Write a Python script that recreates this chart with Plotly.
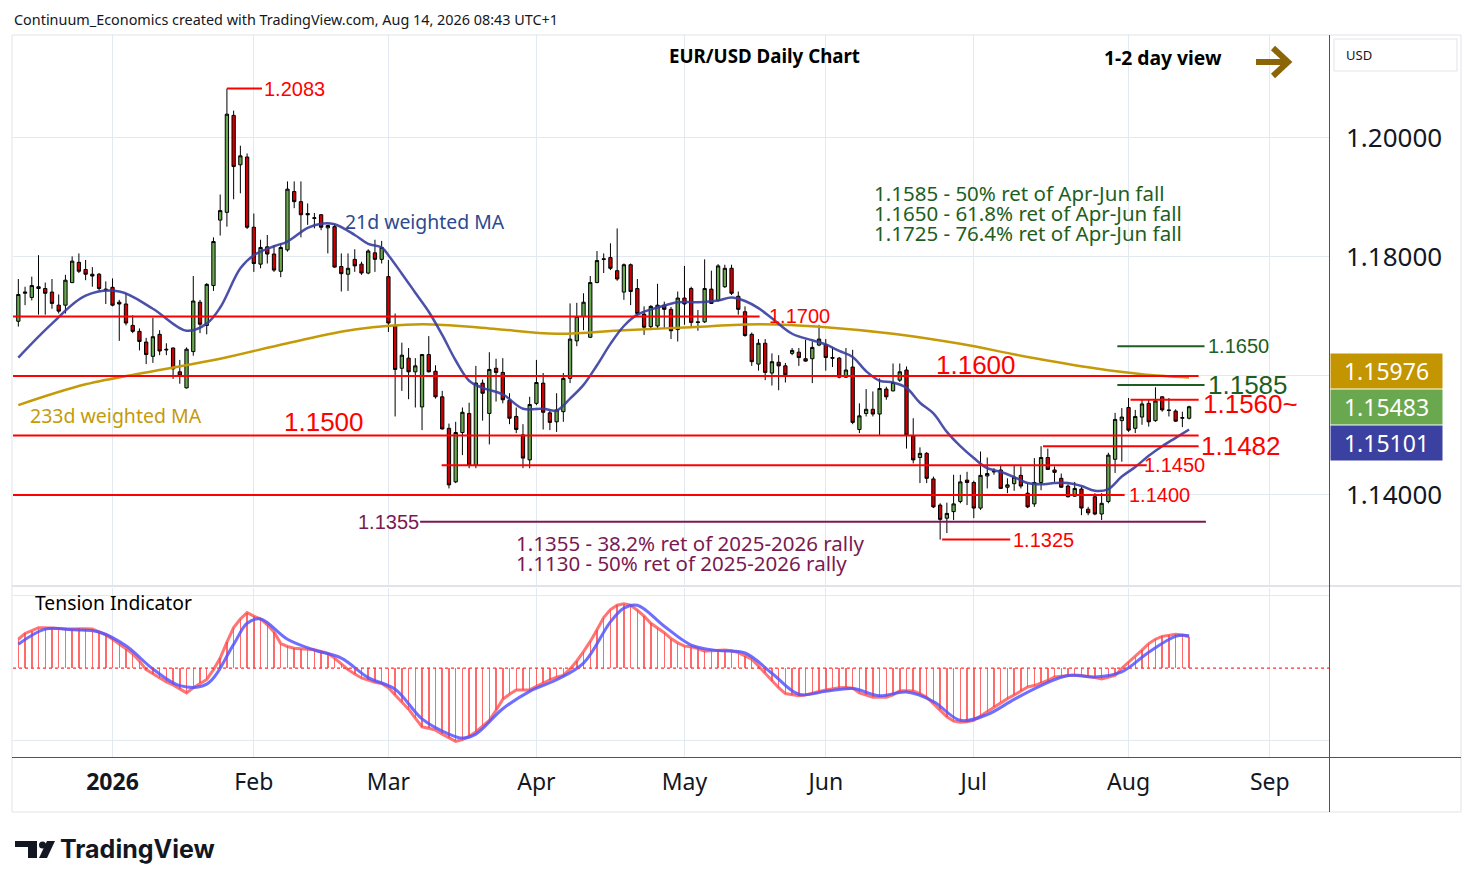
import pandas as pd
import plotly.graph_objects as go

W, H = 1474, 887

# trading days shown (weekdays, no Christmas / New Year bars)
holidays = ["2025-12-25", "2026-01-01"]
days = [d.strftime("%Y-%m-%d") for d in pd.bdate_range("2025-12-11", "2026-08-14")]
days = [d for d in days if d not in holidays]

open_ = [1.1692, 1.1739, 1.1732, 1.1750, 1.1747, 1.1741, 1.1719, 1.1719, 1.1757, 1.1791,
         1.1779, 1.1771, 1.1771, 1.1746, 1.1749, 1.1724, 1.1721, 1.1685, 1.1675, 1.1657,
         1.1633, 1.1670, 1.1645, 1.1647, 1.1607, 1.1580, 1.1641, 1.1724, 1.1685, 1.1752,
         1.1862, 1.1875, 1.2038, 1.1955, 1.1968, 1.1850, 1.1788, 1.1817, 1.1805, 1.1776,
         1.1812, 1.1910, 1.1893, 1.1873, 1.1866, 1.1871, 1.1849, 1.1851, 1.1784, 1.1771,
         1.1796, 1.1788, 1.1773, 1.1807, 1.1796, 1.1767, 1.1684, 1.1613, 1.1630, 1.1607,
         1.1548, 1.1636, 1.1608, 1.1565, 1.1512, 1.1422, 1.1505, 1.1537, 1.1450, 1.1588,
         1.1537, 1.1613, 1.1606, 1.1559, 1.1532, 1.1501, 1.1459, 1.1554, 1.1588, 1.1538,
         1.1523, 1.1540, 1.1596, 1.1659, 1.1700, 1.1665, 1.1757, 1.1797, 1.1799, 1.1777,
         1.1741, 1.1787, 1.1747, 1.1704, 1.1683, 1.1684, 1.1719, 1.1712, 1.1678, 1.1731,
         1.1747, 1.1691, 1.1691, 1.1746, 1.1727, 1.1750, 1.1781, 1.1734, 1.1708, 1.1670,
         1.1620, 1.1655, 1.1605, 1.1623, 1.1617, 1.1638, 1.1640, 1.1629, 1.1629, 1.1652,
         1.1653, 1.1631, 1.1630, 1.1598, 1.1615, 1.1510, 1.1537, 1.1544, 1.1536, 1.1578,
         1.1575, 1.1593, 1.1610, 1.1499, 1.1463, 1.1470, 1.1427, 1.1383, 1.1361, 1.1372,
         1.1389, 1.1425, 1.1421, 1.1378, 1.1432, 1.1440, 1.1442, 1.1413, 1.1419, 1.1433,
         1.1403, 1.1385, 1.1421, 1.1463, 1.1442, 1.1428, 1.1415, 1.1398, 1.1410, 1.1376,
         1.1397, 1.1368, 1.1389, 1.1460, 1.1525, 1.1547, 1.1512, 1.1531, 1.1554, 1.1525,
         1.1565, 1.1543, 1.1541, 1.1529, 1.1529]
high = [1.1763, 1.1750, 1.1767, 1.1803, 1.1757, 1.1763, 1.1737, 1.1770, 1.1801, 1.1806,
        1.1795, 1.1783, 1.1773, 1.1759, 1.1764, 1.1728, 1.1739, 1.1702, 1.1680, 1.1664,
        1.1698, 1.1677, 1.1655, 1.1648, 1.1627, 1.1648, 1.1768, 1.1728, 1.1756, 1.1833,
        1.1905, 1.2083, 1.2046, 1.1987, 1.1974, 1.1873, 1.1829, 1.1837, 1.1820, 1.1823,
        1.1927, 1.1927, 1.1927, 1.1890, 1.1874, 1.1872, 1.1854, 1.1855, 1.1806, 1.1806,
        1.1813, 1.1792, 1.1813, 1.1829, 1.1827, 1.1795, 1.1705, 1.1656, 1.1647, 1.1630,
        1.1637, 1.1667, 1.1618, 1.1575, 1.1520, 1.1523, 1.1547, 1.1555, 1.1617, 1.1594,
        1.1640, 1.1629, 1.1630, 1.1571, 1.1547, 1.1519, 1.1565, 1.1627, 1.1605, 1.1542,
        1.1571, 1.1605, 1.1722, 1.1723, 1.1739, 1.1768, 1.1810, 1.1806, 1.1823, 1.1848,
        1.1789, 1.1789, 1.1763, 1.1717, 1.1719, 1.1755, 1.1725, 1.1716, 1.1742, 1.1785,
        1.1750, 1.1711, 1.1796, 1.1777, 1.1788, 1.1787, 1.1787, 1.1742, 1.1717, 1.1673,
        1.1662, 1.1662, 1.1638, 1.1635, 1.1622, 1.1647, 1.1647, 1.1661, 1.1658, 1.1686,
        1.1662, 1.1648, 1.1632, 1.1647, 1.1644, 1.1554, 1.1578, 1.1574, 1.1596, 1.1582,
        1.1621, 1.1621, 1.1616, 1.1529, 1.1480, 1.1472, 1.1431, 1.1386, 1.1387, 1.1434,
        1.1434, 1.1439, 1.1424, 1.1473, 1.1463, 1.1445, 1.1449, 1.1428, 1.1450, 1.1448,
        1.1420, 1.1462, 1.1482, 1.1478, 1.1448, 1.1436, 1.1418, 1.1422, 1.1414, 1.1380,
        1.1403, 1.1403, 1.1471, 1.1538, 1.1546, 1.1563, 1.1543, 1.1560, 1.1560, 1.1581,
        1.1566, 1.1563, 1.1544, 1.1540, 1.1550]
low = [1.1683, 1.1719, 1.1727, 1.1703, 1.1703, 1.1713, 1.1705, 1.1705, 1.1756, 1.1773,
       1.1761, 1.1750, 1.1743, 1.1721, 1.1717, 1.1659, 1.1685, 1.1672, 1.1643, 1.1620,
       1.1622, 1.1635, 1.1635, 1.1595, 1.1587, 1.1579, 1.1634, 1.1672, 1.1670, 1.1743,
       1.1836, 1.1851, 1.1897, 1.1907, 1.1847, 1.1775, 1.1781, 1.1789, 1.1775, 1.1766,
       1.1809, 1.1882, 1.1833, 1.1854, 1.1848, 1.1845, 1.1806, 1.1782, 1.1742, 1.1743,
       1.1775, 1.1770, 1.1771, 1.1775, 1.1789, 1.1674, 1.1532, 1.1575, 1.1561, 1.1547,
       1.1509, 1.1606, 1.1562, 1.1510, 1.1411, 1.1420, 1.1467, 1.1445, 1.1445, 1.1525,
       1.1485, 1.1557, 1.1554, 1.1519, 1.1504, 1.1445, 1.1445, 1.1551, 1.1510, 1.1509,
       1.1506, 1.1523, 1.1588, 1.1650, 1.1677, 1.1664, 1.1756, 1.1773, 1.1778, 1.1760,
       1.1728, 1.1719, 1.1700, 1.1669, 1.1677, 1.1680, 1.1680, 1.1662, 1.1658, 1.1686,
       1.1684, 1.1676, 1.1689, 1.1721, 1.1725, 1.1748, 1.1736, 1.1703, 1.1666, 1.1617,
       1.1609, 1.1593, 1.1584, 1.1576, 1.1589, 1.1635, 1.1617, 1.1624, 1.1588, 1.1650,
       1.1609, 1.1615, 1.1596, 1.1597, 1.1519, 1.1504, 1.1532, 1.1532, 1.1501, 1.1560,
       1.1574, 1.1590, 1.1478, 1.1453, 1.1420, 1.1420, 1.1378, 1.1325, 1.1336, 1.1358,
       1.1386, 1.1383, 1.1361, 1.1375, 1.1411, 1.1434, 1.1410, 1.1403, 1.1407, 1.1411,
       1.1378, 1.1380, 1.1408, 1.1442, 1.1422, 1.1412, 1.1396, 1.1397, 1.1366, 1.1366,
       1.1366, 1.1358, 1.1386, 1.1437, 1.1456, 1.1506, 1.1504, 1.1518, 1.1515, 1.1523,
       1.1540, 1.1532, 1.1523, 1.1514, 1.1527]
close = [1.1737, 1.1741, 1.1752, 1.1747, 1.1739, 1.1722, 1.1709, 1.1761, 1.1793, 1.1776,
         1.1771, 1.1768, 1.1747, 1.1745, 1.1719, 1.1721, 1.1689, 1.1675, 1.1658, 1.1636,
         1.1666, 1.1642, 1.1644, 1.1612, 1.1600, 1.1645, 1.1726, 1.1687, 1.1754, 1.1826,
         1.1878, 1.2040, 1.1952, 1.1970, 1.1850, 1.1789, 1.1816, 1.1805, 1.1778, 1.1816,
         1.1914, 1.1893, 1.1871, 1.1871, 1.1865, 1.1850, 1.1853, 1.1783, 1.1772, 1.1781,
         1.1785, 1.1773, 1.1810, 1.1796, 1.1816, 1.1689, 1.1611, 1.1635, 1.1607, 1.1617,
         1.1636, 1.1607, 1.1565, 1.1511, 1.1417, 1.1505, 1.1539, 1.1450, 1.1588, 1.1571,
         1.1611, 1.1606, 1.1560, 1.1529, 1.1510, 1.1462, 1.1552, 1.1589, 1.1539, 1.1522,
         1.1543, 1.1596, 1.1662, 1.1700, 1.1724, 1.1757, 1.1794, 1.1796, 1.1781, 1.1763,
         1.1787, 1.1742, 1.1705, 1.1682, 1.1717, 1.1719, 1.1712, 1.1676, 1.1731, 1.1721,
         1.1690, 1.1690, 1.1747, 1.1722, 1.1785, 1.1781, 1.1739, 1.1712, 1.1668, 1.1624,
         1.1655, 1.1606, 1.1624, 1.1617, 1.1602, 1.1643, 1.1631, 1.1625, 1.1648, 1.1662,
         1.1631, 1.1630, 1.1598, 1.1610, 1.1522, 1.1533, 1.1544, 1.1536, 1.1579, 1.1565,
         1.1589, 1.1607, 1.1501, 1.1459, 1.1470, 1.1428, 1.1380, 1.1359, 1.1369, 1.1385,
         1.1422, 1.1421, 1.1378, 1.1433, 1.1436, 1.1439, 1.1411, 1.1417, 1.1430, 1.1415,
         1.1380, 1.1421, 1.1463, 1.1443, 1.1438, 1.1413, 1.1397, 1.1411, 1.1378, 1.1370,
         1.1368, 1.1386, 1.1467, 1.1527, 1.1531, 1.1509, 1.1532, 1.1553, 1.1523, 1.1558,
         1.1543, 1.1542, 1.1524, 1.1530, 1.15483]

# 21d weighted MA
wma21_dates = ["2025-12-11", "2025-12-18", "2025-12-26", "2026-01-05", "2026-01-12", "2026-01-19",
               "2026-01-22", "2026-01-26", "2026-01-29", "2026-02-02", "2026-02-05", "2026-02-09",
               "2026-02-12", "2026-02-16", "2026-02-18", "2026-02-23", "2026-02-25", "2026-02-27",
               "2026-03-02", "2026-03-04", "2026-03-06", "2026-03-10", "2026-03-12", "2026-03-16",
               "2026-03-18", "2026-03-20", "2026-03-25", "2026-03-30", "2026-04-02", "2026-04-06",
               "2026-04-08", "2026-04-10", "2026-04-14", "2026-04-16", "2026-04-20", "2026-04-22",
               "2026-04-27", "2026-04-30", "2026-05-05", "2026-05-08", "2026-05-12", "2026-05-14",
               "2026-05-18", "2026-05-20", "2026-05-25", "2026-05-28", "2026-06-01", "2026-06-03",
               "2026-06-05", "2026-06-09", "2026-06-11", "2026-06-15", "2026-06-17", "2026-06-19",
               "2026-06-23", "2026-06-25", "2026-06-29", "2026-07-01", "2026-07-03", "2026-07-07",
               "2026-07-09", "2026-07-13", "2026-07-15", "2026-07-17", "2026-07-21", "2026-07-23",
               "2026-07-27", "2026-07-29", "2026-07-31", "2026-08-04", "2026-08-06", "2026-08-10",
               "2026-08-12", "2026-08-14"]
wma21 = [1.1631, 1.1688, 1.1735, 1.1742, 1.1713, 1.1676, 1.1688, 1.1715, 1.1781, 1.1803,
         1.1818, 1.1826, 1.1849, 1.1856, 1.1855, 1.1837, 1.1822, 1.1816, 1.1803, 1.1772,
         1.1740, 1.1708, 1.1669, 1.1626, 1.1592, 1.1580, 1.1569, 1.1545, 1.1545, 1.1542,
         1.1562, 1.1585, 1.1618, 1.1654, 1.1684, 1.1703, 1.1715, 1.1724, 1.1724, 1.1727,
         1.1732, 1.1726, 1.1714, 1.1697, 1.1671, 1.1660, 1.1653, 1.1642, 1.1632, 1.1608,
         1.1592, 1.1589, 1.1580, 1.1555, 1.1537, 1.1506, 1.1482, 1.1462, 1.1445, 1.1439,
         1.1430, 1.1420, 1.1418, 1.1420, 1.1420, 1.1415, 1.1407, 1.1410, 1.1431, 1.1447,
         1.1466, 1.1482, 1.1496, 1.15101]

# 233d weighted MA
wma233_dates = ["2025-12-11", "2025-12-26", "2026-01-12", "2026-01-26", "2026-02-09", "2026-02-23",
                "2026-03-09", "2026-03-23", "2026-04-06", "2026-04-20", "2026-05-04", "2026-05-18",
                "2026-06-01", "2026-06-15", "2026-06-29", "2026-07-13", "2026-07-27", "2026-08-05",
                "2026-08-14"]
wma233 = [1.1551, 1.1586, 1.1608, 1.1629, 1.1655, 1.1678, 1.1687, 1.1680, 1.1671, 1.1677,
          1.1682, 1.1687, 1.1682, 1.1671, 1.1654, 1.1632, 1.1613, 1.1603, 1.15976]

# Tension indicator (one value per bar) and its signal line
tension = [0.40, 0.48, 0.52, 0.56, 0.56, 0.56, 0.55, 0.54, 0.545, 0.55,
           0.545, 0.54, 0.50, 0.46, 0.40, 0.34, 0.27, 0.20, 0.10, -0.02,
           -0.08, -0.14, -0.19, -0.23, -0.29, -0.34, -0.27, -0.21, -0.155, -0.02,
           0.14, 0.36, 0.56, 0.68, 0.767, 0.72, 0.68, 0.60, 0.50, 0.34,
           0.30, 0.275, 0.27, 0.265, 0.255, 0.23, 0.205, 0.14, 0.065, -0.02,
           -0.08, -0.135, -0.165, -0.195, -0.21, -0.27, -0.37, -0.47, -0.565, -0.69,
           -0.81, -0.83, -0.855, -0.91, -0.96, -1.01, -0.985, -0.94, -0.88, -0.80,
           -0.72, -0.58, -0.43, -0.36, -0.30, -0.30, -0.30, -0.25, -0.20, -0.16,
           -0.125, -0.10, -0.01, 0.10, 0.23, 0.37, 0.53, 0.70, 0.81, 0.87,
           0.89, 0.87, 0.80, 0.72, 0.62, 0.56, 0.49, 0.41, 0.35, 0.305,
           0.295, 0.27, 0.235, 0.24, 0.245, 0.25, 0.24, 0.215, 0.17, 0.125,
           0.03, -0.07, -0.18, -0.27, -0.35, -0.37, -0.38, -0.37, -0.34, -0.32,
           -0.30, -0.28, -0.27, -0.265, -0.275, -0.34, -0.37, -0.40, -0.40, -0.40,
           -0.37, -0.31, -0.31, -0.315, -0.35, -0.40, -0.49, -0.58, -0.67, -0.73,
           -0.745, -0.74, -0.72, -0.66, -0.60, -0.53, -0.47, -0.42, -0.37, -0.31,
           -0.26, -0.24, -0.21, -0.17, -0.12, -0.11, -0.095, -0.095, -0.10, -0.11,
           -0.13, -0.15, -0.13, -0.10, 0.00, 0.08, 0.16, 0.25, 0.34, 0.40,
           0.44, 0.46, 0.47, 0.46, 0.43]
signal_dates = ["2025-12-11", "2025-12-17", "2025-12-23", "2025-12-30", "2026-01-06", "2026-01-12",
                "2026-01-16", "2026-01-22", "2026-01-28", "2026-01-30", "2026-02-03", "2026-02-09",
                "2026-02-13", "2026-02-19", "2026-02-25", "2026-03-03", "2026-03-09", "2026-03-13",
                "2026-03-17", "2026-03-19", "2026-03-25", "2026-03-31", "2026-04-06", "2026-04-10",
                "2026-04-16", "2026-04-20", "2026-04-22", "2026-04-28", "2026-05-04", "2026-05-08",
                "2026-05-14", "2026-05-20", "2026-05-26", "2026-06-01", "2026-06-05", "2026-06-11",
                "2026-06-17", "2026-06-23", "2026-06-29", "2026-07-03", "2026-07-09", "2026-07-15",
                "2026-07-21", "2026-07-27", "2026-07-31", "2026-08-06", "2026-08-12", "2026-08-14"]
signal = [0.33, 0.54, 0.53, 0.50, 0.31, -0.01, -0.24, -0.22, 0.33, 0.62,
          0.68, 0.40, 0.25, 0.14, -0.13, -0.29, -0.70, -0.91, -0.965, -0.91,
          -0.56, -0.32, -0.16, 0.07, 0.64, 0.83, 0.87, 0.58, 0.32, 0.243,
          0.21, -0.07, -0.36, -0.32, -0.28, -0.38, -0.33, -0.46, -0.72, -0.64,
          -0.43, -0.24, -0.10, -0.12, -0.05, 0.22, 0.44, 0.45]

month_ticks = ["2026-01-02", "2026-02-02", "2026-03-02", "2026-04-01", "2026-05-01",
               "2026-06-01", "2026-07-01", "2026-08-03", "2026-09-01"]
month_labels = ["<b>2026</b>", "Feb", "Mar", "Apr", "May", "Jun", "Jul", "Aug", "Sep"]

price_ticks = [1.14, 1.16, 1.18, 1.20]
price_labels = ["1.14000", "", "1.18000", "1.20000"]


def px(x):
    return x / W


def py(y):
    return 1 - y / H


X_START, X_END = "2025-12-10 05:00", "2026-09-11 19:00"
breaks = [dict(bounds=["sat", "mon"]), dict(values=holidays)]
GRID = "#e3e9f0"
FONT = "Noto Sans"
ARIAL = "Liberation Sans"

fig = go.Figure()

fig.add_trace(go.Scatter(x=wma233_dates, y=wma233, mode="lines",
                         line=dict(color="#c59a08", width=2.5, shape="spline"),
                         hoverinfo="skip", showlegend=False))
fig.add_trace(go.Scatter(x=wma21_dates, y=wma21, mode="lines",
                         line=dict(color="rgba(55,62,160,0.9)", width=2.5, shape="spline"),
                         hoverinfo="skip", showlegend=False))
fig.add_trace(go.Candlestick(
    x=days, open=open_, high=high, low=low, close=close,
    increasing=dict(fillcolor="#6aa84f", line=dict(color="#000000", width=1)),
    decreasing=dict(fillcolor="#cc0000", line=dict(color="#000000", width=1)),
    whiskerwidth=0, hoverinfo="skip", showlegend=False))

fig.add_trace(go.Bar(x=days, y=tension, width=86400000 * 0.22,
                     marker=dict(color="rgba(255,70,70,0.8)", line=dict(width=0)),
                     xaxis="x2", yaxis="y2", hoverinfo="skip", showlegend=False))
fig.add_trace(go.Scatter(x=days, y=tension, mode="lines",
                         line=dict(color="rgba(255,70,70,0.75)", width=3),
                         xaxis="x2", yaxis="y2", hoverinfo="skip", showlegend=False))
fig.add_trace(go.Scatter(x=signal_dates, y=signal, mode="lines",
                         line=dict(color="rgba(85,85,255,0.85)", width=3, shape="spline"),
                         xaxis="x2", yaxis="y2", hoverinfo="skip", showlegend=False))

shapes = []
# support / resistance levels: (price, start, end, colour)
level_lines = [
    (1.2083, "2026-01-27", "2026-02-03 05:00", "#ff0000"),
    (1.1700, X_START, "2026-05-18 04:00", "#ff0000"),
    (1.1650, "2026-07-30 08:00", "2026-08-18 07:00", "#1e5e22"),
    (1.1600, X_START, "2026-08-17 10:00", "#ff0000"),
    (1.1585, "2026-07-30 08:00", "2026-08-18 07:00", "#1e5e22"),
    (1.1560, "2026-08-03 07:00", "2026-08-17 10:00", "#ff0000"),
    (1.1500, X_START, "2026-08-17 10:00", "#ff0000"),
    (1.1482, "2026-07-15 07:00", "2026-08-17 10:00", "#ff0000"),
    (1.1450, "2026-03-11 22:00", "2026-08-05 17:00", "#ff0000"),
    (1.1400, X_START, "2026-07-31 10:00", "#ff0000"),
    (1.1355, "2026-03-06 17:00", "2026-08-18 12:00", "#7a1a52"),
    (1.1325, "2026-06-24 07:00", "2026-07-08 10:00", "#ff0000"),
]
for lvl, x0, x1, col in level_lines:
    shapes.append(dict(type="line", xref="x", yref="y", x0=x0, x1=x1, y0=lvl, y1=lvl,
                       line=dict(color=col, width=2), layer="above"))

# zero line of the indicator
shapes.append(dict(type="line", xref="paper", yref="y2", x0=px(13), x1=px(1329), y0=0, y1=0,
                   line=dict(color="#ff3030", width=1.2, dash="dot")))
# frame, pane separators, price scale separator
shapes += [
    dict(type="rect", xref="paper", yref="paper", x0=px(12), x1=px(1461), y0=py(812), y1=py(35),
         line=dict(color="#e0e3eb", width=1)),
    dict(type="line", xref="paper", yref="paper", x0=px(12), x1=px(1461), y0=py(586), y1=py(586),
         line=dict(color="#e0e3eb", width=2)),
    dict(type="line", xref="paper", yref="paper", x0=px(12), x1=px(1461), y0=py(757.5), y1=py(757.5),
         line=dict(color="#50535e", width=1)),
    dict(type="line", xref="paper", yref="paper", x0=px(1329.5), x1=px(1329.5), y0=py(812), y1=py(35),
         line=dict(color="#50535e", width=1)),
    dict(type="rect", xref="paper", yref="paper", x0=px(1334), x1=px(1457), y0=py(71), y1=py(39),
         line=dict(color="#e0e3eb", width=1)),
]
# view arrow
shapes.append(dict(type="line", xref="paper", yref="paper", x0=px(1256), x1=px(1286), y0=py(62), y1=py(62),
                   line=dict(color="#8b6508", width=6)))
shapes.append(dict(type="path", xref="paper", yref="paper",
                   path=f"M {px(1273)},{py(48)} L {px(1288)},{py(62)} L {px(1273)},{py(76)}",
                   line=dict(color="#8b6508", width=6)))
# TradingView logo
LOGO = "#131722"
shapes += [
    dict(type="rect", xref="paper", yref="paper", x0=px(15), x1=px(37), y0=py(847), y1=py(841),
         fillcolor=LOGO, line=dict(width=0)),
    dict(type="rect", xref="paper", yref="paper", x0=px(28), x1=px(37), y0=py(858), y1=py(841),
         fillcolor=LOGO, line=dict(width=0)),
    dict(type="circle", xref="paper", yref="paper", x0=px(39), x1=px(46), y0=py(848.5), y1=py(841.5),
         fillcolor=LOGO, line=dict(width=0)),
    dict(type="path", xref="paper", yref="paper",
         path=f"M {px(47)},{py(841)} L {px(55)},{py(841)} L {px(47)},{py(858)} L {px(39)},{py(858)} Z",
         fillcolor=LOGO, line=dict(width=0)),
]

ann = []


def text(t, x, y, size, color="#131722", family=FONT, bold=False):
    ann.append(dict(text=f"<b>{t}</b>" if bold else t, xref="paper", yref="paper", x=px(x), y=py(y),
                    xanchor="left", yanchor="middle", showarrow=False,
                    font=dict(size=size, color=color, family=family)))


text("Continuum_Economics created with TradingView.com, Aug 14, 2026 08:43 UTC+1", 12, 19, 14.4)
text("EUR/USD Daily Chart", 667, 55, 18.7, "#000000", bold=True)
text("1-2 day view", 1102, 57, 19.3, "#000000", bold=True)
text("USD", 1344, 55, 13)
GREEN_TXT = "#1e5e22"
text("1.1585 - 50% ret of Apr-Jun fall", 872, 193, 20.5, GREEN_TXT)
text("1.1650 - 61.8% ret of Apr-Jun fall", 872, 213, 20.5, GREEN_TXT)
text("1.1725 - 76.4% ret of Apr-Jun fall", 872, 233, 20.5, GREEN_TXT)
text("21d weighted MA", 343, 221, 19.4, "#2d4a8e")
text("233d weighted MA", 28, 415, 19.5, "#c59a08")
PURPLE = "#7a1a52"
text("1.1355 - 38.2% ret of 2025-2026 rally", 514, 543, 20.5, PURPLE)
text("1.1130 - 50% ret of 2025-2026 rally", 514, 563, 20.5, PURPLE)
text("Tension Indicator", 33, 602, 19.3, "#000000")
text("<b>TradingView</b>", 58, 849, 25, LOGO, family="Inter")

# level labels: (label, price, left edge px, vertical shift px, size, colour)
level_labels = [
    ("1.2083", 1.2083, 262, 0, 20, "#ff0000"),
    ("1.1700", 1.1700, 767, 0, 20, "#ff0000"),
    ("1.1650", 1.1650, 1206, 0, 20, GREEN_TXT),
    ("1.1600", 1.1600, 934, 11, 26, "#ff0000"),
    ("1.1585", 1.1585, 1206, 0, 26, GREEN_TXT),
    ("1.1560~", 1.1560, 1201, -4, 26, "#ff0000"),
    ("1.1500", 1.1500, 282, 13, 26, "#ff0000"),
    ("1.1482", 1.1482, 1199, 0, 26, "#ff0000"),
    ("1.1450", 1.1450, 1142, 0, 20, "#ff0000"),
    ("1.1400", 1.1400, 1127, 0, 20, "#ff0000"),
    ("1.1355", 1.1355, 356, 0, 20, PURPLE),
    ("1.1325", 1.1325, 1011, 0, 20, "#ff0000"),
]
for t, lvl, x, shift, size, col in level_labels:
    ann.append(dict(text=t, xref="paper", yref="y", x=px(x), y=lvl, yshift=shift,
                    xanchor="left", yanchor="middle", showarrow=False,
                    font=dict(size=size, color=col, family=ARIAL)))

# last-value tags on the price scale
tags = [(f"{wma233[-1]:.5f}", 371, "#c39500"),
        (f"{close[-1]:.5f}", 407, "#6aa84f"),
        (f"{wma21[-1]:.5f}", 442.5, "#3a41a0")]
for t, y, col in tags:
    ann.append(dict(text=t, xref="paper", yref="paper", x=px(1330), y=py(y), xanchor="left",
                    yanchor="middle", showarrow=False, bgcolor=col, width=107, height=30,
                    borderpad=2, align="center", font=dict(size=23, color="#ffffff", family=FONT)))

fig.update_layout(
    width=W, height=H, margin=dict(l=0, r=0, t=0, b=0),
    paper_bgcolor="#ffffff", plot_bgcolor="#ffffff",
    shapes=shapes, annotations=ann, bargap=0, hovermode=False,
    xaxis=dict(domain=[px(13), px(1329)], range=[X_START, X_END], rangebreaks=breaks,
               anchor="y", tickvals=month_ticks, showticklabels=False, showgrid=True,
               gridcolor=GRID, zeroline=False, rangeslider=dict(visible=False), fixedrange=True),
    xaxis2=dict(domain=[px(13), px(1329)], range=[X_START, X_END], rangebreaks=breaks,
                anchor="y2", matches="x", tickvals=month_ticks, ticktext=month_labels,
                showgrid=True, gridcolor=GRID, zeroline=False, ticks="", ticklabelstandoff=8,
                tickfont=dict(size=23, color="#131722", family=FONT)),
    yaxis=dict(domain=[py(585), py(35)], range=[1.12487, 1.21731], side="right", anchor="x",
               tickvals=price_ticks, ticktext=price_labels, showgrid=True, gridcolor=GRID,
               zeroline=False, ticks="", ticklabelstandoff=16,
               tickfont=dict(size=26, color="#131722", family=FONT)),
    yaxis2=dict(domain=[py(757.5), py(588)], range=[-1.2331, 1.1076], anchor="x2",
                tickvals=[-1, 1], showticklabels=False, showgrid=True, gridcolor=GRID,
                zeroline=False),
)

fig.write_html("out.html", config={"displayModeBar": False},
               post_script="document.body.style.margin='0';document.body.style.overflow='hidden';")
